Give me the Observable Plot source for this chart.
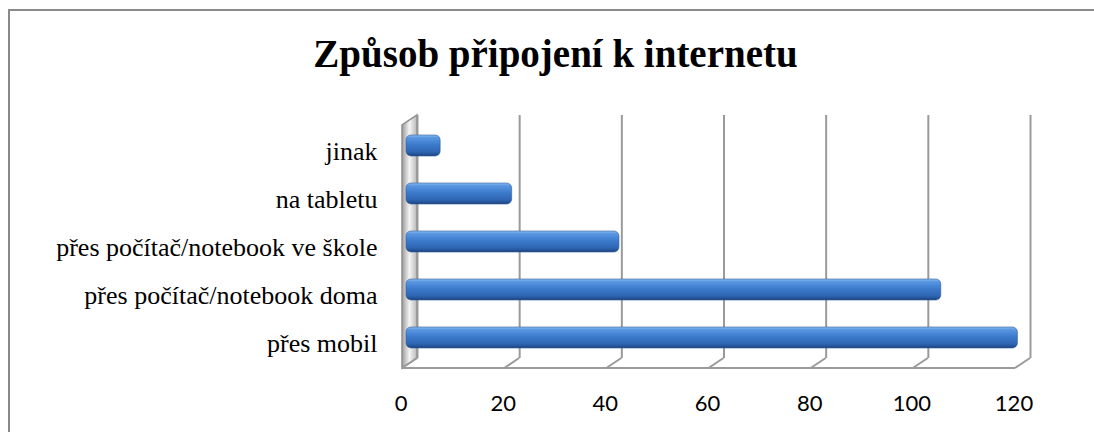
<!DOCTYPE html>
<html><head><meta charset="utf-8">
<script src="https://cdn.jsdelivr.net/npm/d3@7"></script>
<script src="https://cdn.jsdelivr.net/npm/@observablehq/plot@0.6"></script>
<style>
html,body{margin:0;padding:0;background:#fff;overflow:hidden;}
#wrap{position:relative;width:1094px;height:432px;overflow:hidden;background:#fff;}
#frame{position:absolute;left:8px;top:9px;width:1200px;height:600px;border-left:2px solid #8a8a8a;border-top:2px solid #8a8a8a;}
#title{position:absolute;left:0;top:34px;width:1111px;text-align:center;font:bold 39px "Liberation Serif",serif;line-height:39px;color:#000;white-space:nowrap;}
#chart{position:absolute;left:0;top:90px;}
#chart svg{overflow:visible;}
</style></head><body>
<div id="wrap"><div id="frame"></div><div id="title"></div><div id="chart"></div></div>
<script>
const title = "Způsob připojení k internetu";
const categories = ["jinak", "na tabletu", "přes počítač/notebook ve škole", "přes počítač/notebook doma", "přes mobil"];
const values = [6, 20, 41, 104, 119];
const xTicks = [0, 20, 40, 60, 80, 100, 120];

const data = categories.map((c, i) => ({category: c, value: values[i]}));
document.getElementById("title").textContent = title;

const W = 1094, H = 342, DX = 7.5, DY = 5;
const chart = Plot.plot({
  width: W, height: H,
  marginLeft: 409.5, marginRight: 71.5, marginTop: 30, marginBottom: 69,
  style: {background: "transparent", overflow: "visible"},
  x: {domain: [0, 120], ticks: xTicks},
  y: {domain: categories, paddingInner: 0.56, paddingOuter: 0.3},
  marks: [
    Plot.ruleX(xTicks, {x: d => d, stroke: "#9a9a9a", strokeWidth: 2, dx: DX, dy: -DY}),
    Plot.barX(data, {y: "category", x: "value", fill: "url(#barGrad)", stroke: "#2b5a9a", strokeWidth: 0.6, rx: 5, insetLeft: -3.5}),
    Plot.axisY({tickSize: 0, tickPadding: 32.5, fontSize: 26, fontFamily: "Liberation Serif", color: "#000", dy: 6, label: null, ariaLabel: "y-axis"}),
    Plot.axisX({ticks: xTicks, tickSize: 0, tickPadding: 32, fontSize: 22, fontFamily: "Lato", color: "#000", dx: -9, label: null, ariaLabel: "x-axis"})
  ]
});
document.getElementById("chart").appendChild(chart);

// 3D decorations built from Plot's own scales
const svg = d3.select(chart);
const sx = chart.scale("x"), sy = chart.scale("y");
const xs = d3.scaleLinear(sx.domain, sx.range);
const [yTop, yBot] = sy.range;

// enforce label fonts
svg.selectAll('g[aria-label^="y-axis"] text').style("font-family", '"Liberation Serif", serif').style("font-size", "26px").style("fill", "#000");
svg.selectAll('g[aria-label^="x-axis"] text').style("font-family", 'Lato, sans-serif').style("font-size", "22px").style("fill", "#000");

const defs = svg.insert("defs", ":first-child");
const bg = defs.append("linearGradient").attr("id", "barGrad").attr("x1", 0).attr("y1", 0).attr("x2", 0).attr("y2", 1);
[[0, "#8dbcf0"], [0.12, "#5a98e2"], [0.45, "#3d7bcd"], [0.8, "#2f66b3"], [1, "#1c447e"]]
  .forEach(([o, c]) => bg.append("stop").attr("offset", o).attr("stop-color", c));
const wg = defs.append("linearGradient").attr("id", "wallGrad").attr("x1", 0).attr("y1", 0).attr("x2", 1).attr("y2", 0);
[[0, "#9c9c9c"], [0.5, "#f4f4f4"], [1, "#b8b8b8"]]
  .forEach(([o, c]) => wg.append("stop").attr("offset", o).attr("stop-color", c));

const deco = svg.insert("g", "g[aria-label]");
const x0 = xs(0), x1 = xs(120);
deco.append("polygon")
  .attr("points", [[x0 + DX, yTop - DY], [x0 + DX, yBot - DY], [x0 - DX, yBot + DY], [x0 - DX, yTop + DY]].map(p => p.join(",")).join(" "))
  .attr("fill", "url(#wallGrad)").attr("stroke", "#8e8e8e").attr("stroke-width", 1.5);
deco.append("line")
  .attr("x1", x0 - DX).attr("x2", x1 - DX).attr("y1", yBot + DY).attr("y2", yBot + DY)
  .attr("stroke", "#9a9a9a").attr("stroke-width", 2);
xTicks.forEach(t => {
  deco.append("line")
    .attr("x1", xs(t) + DX).attr("y1", yBot - DY).attr("x2", xs(t) - DX).attr("y2", yBot + DY)
    .attr("stroke", "#9a9a9a").attr("stroke-width", 2);
});
</script>
</body></html>
